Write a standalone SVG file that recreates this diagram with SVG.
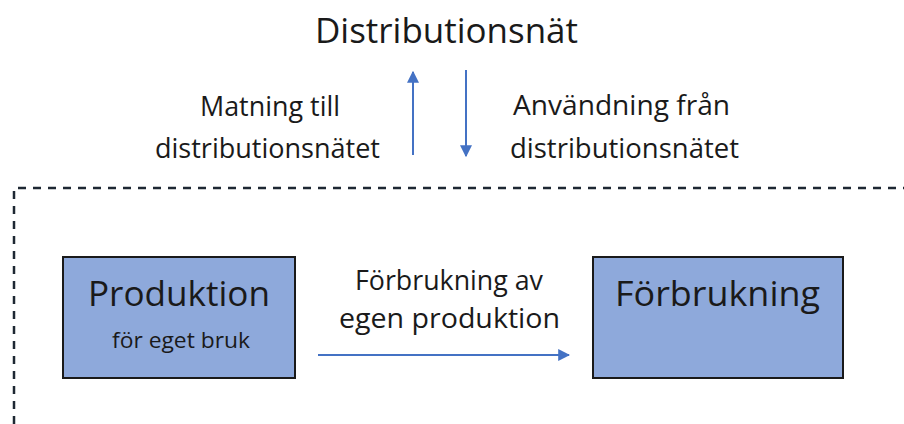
<svg xmlns="http://www.w3.org/2000/svg" width="904" height="424" viewBox="0 0 904 424">
<style>
text{font-family:"Open Sans","Noto Sans",sans-serif;fill:#1a1a1a;text-anchor:middle}
.big{font-size:35px}
.mid{font-size:27px}
.sm{font-size:21px}
.box{fill:#8EA9DB;stroke:#1a1a1a;stroke-width:2}
.conn{stroke:#4472C4;stroke-width:2;fill:none}
.dash{stroke:#1e2833;stroke-width:2.5;fill:none;stroke-dasharray:8 7}
</style>
<defs>
<marker id="ah" viewBox="0 0 10 10" refX="9" refY="5" markerWidth="6" markerHeight="6" orient="auto" markerUnits="strokeWidth">
<path d="M0,0 L10,5 L0,10 z" fill="#4472C4"/>
</marker>
</defs>
<rect width="904" height="424" fill="#fff"/>
<g id="boundary">
<path class="dash" d="M14,424 L14,188 L904,188"/>
</g>
<g id="distributionsnat">
<text class="big" x="446.5" y="43" textLength="263" lengthAdjust="spacingAndGlyphs">Distributionsnät</text>
</g>
<g id="label-matning">
<text class="mid" x="270" y="116" textLength="140" lengthAdjust="spacingAndGlyphs">Matning till</text>
<text class="mid" x="267.5" y="158" textLength="225" lengthAdjust="spacingAndGlyphs">distributionsnätet</text>
</g>
<g id="label-anvandning">
<text class="mid" x="621.5" y="115" textLength="217" lengthAdjust="spacingAndGlyphs">Användning från</text>
<text class="mid" x="624.5" y="158" textLength="229" lengthAdjust="spacingAndGlyphs">distributionsnätet</text>
</g>
<g id="label-egen">
<text class="mid" x="449" y="290" textLength="188" lengthAdjust="spacingAndGlyphs">Förbrukning av</text>
<text class="mid" x="449.5" y="328" textLength="221" lengthAdjust="spacingAndGlyphs">egen produktion</text>
</g>
<g id="produktion">
<rect class="box" x="63" y="257" width="232" height="121"/>
<text class="big" x="179" y="306" textLength="182" lengthAdjust="spacingAndGlyphs">Produktion</text>
<text class="sm" x="181" y="348" textLength="138" lengthAdjust="spacingAndGlyphs">för eget bruk</text>
</g>
<g id="forbrukning">
<rect class="box" x="593" y="257" width="250" height="121"/>
<text class="big" x="717.5" y="306" textLength="205" lengthAdjust="spacingAndGlyphs">Förbrukning</text>
</g>
<g id="connectors">
<line class="conn" x1="413" y1="155" x2="413" y2="72" marker-end="url(#ah)"/>
<line class="conn" x1="466" y1="70" x2="466" y2="156" marker-end="url(#ah)"/>
<line class="conn" x1="318" y1="355" x2="569" y2="355" marker-end="url(#ah)"/>
</g>
</svg>
